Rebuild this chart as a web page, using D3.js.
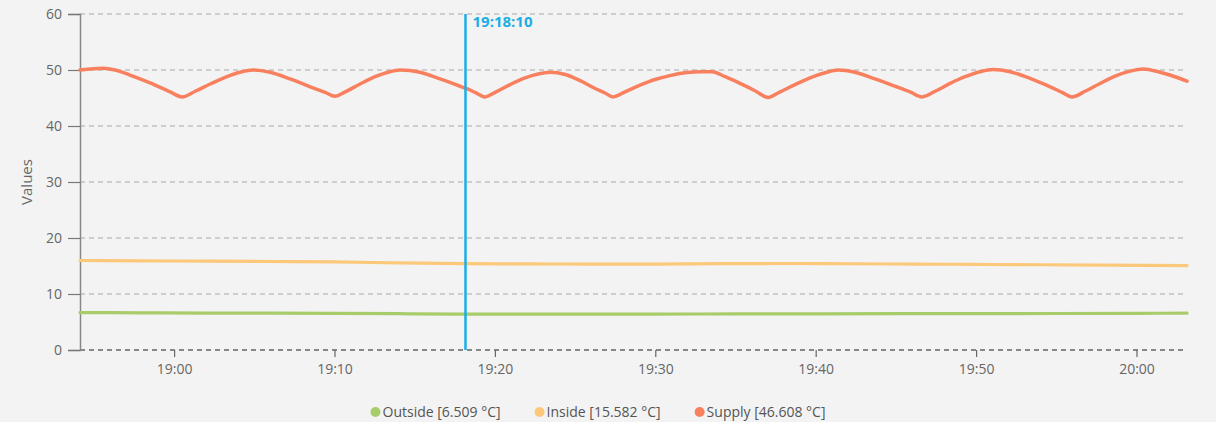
<!DOCTYPE html>
<html>
<head>
<meta charset="utf-8">
<script src="https://cdn.jsdelivr.net/npm/d3@7"></script>
<style>
  body { margin: 0; background: #f3f3f3; font-family: "Open Sans", "Noto Sans", sans-serif; }
  svg { display: block; }
  .tick text { fill: #666; font-size: 14px; font-family: "Open Sans", "Noto Sans", sans-serif; }
</style>
</head>
<body>
<svg id="chart" width="1216" height="422"></svg>
<script>
// time range of the view
var viewStart = "18:54:08", viewEnd = "20:03:09";
var cursorTime = "19:18:10";

var yTicks = [0, 10, 20, 30, 40, 50, 60];
var xTicks = ["19:00", "19:10", "19:20", "19:30", "19:40", "19:50", "20:00"];

var seriesNames = ["Outside", "Inside", "Supply"];
var legendValues = ["6.509", "15.582", "46.608"];
var seriesColors = ["#a9cc6b", "#fcc97a", "#f8805f"];

// readings
var outsideTimes = ["18:54:08","18:58:00","19:02:00","19:06:00","19:10:00","19:14:00","19:18:00","19:22:00","19:26:00","19:30:00","19:35:00","19:40:00","19:45:00","19:50:00","19:55:00","20:00:00","20:03:09"];
var outsideVals  = [6.68, 6.64, 6.6, 6.58, 6.54, 6.48, 6.4, 6.42, 6.4, 6.42, 6.44, 6.46, 6.48, 6.5, 6.52, 6.55, 6.58];

var insideTimes = ["18:54:08","18:58:00","19:02:00","19:06:00","19:10:00","19:14:00","19:18:00","19:22:00","19:26:00","19:30:00","19:34:00","19:38:00","19:42:00","19:46:00","19:50:00","19:54:00","19:58:00","20:03:09"];
var insideVals  = [15.98, 15.9, 15.88, 15.8, 15.72, 15.55, 15.42, 15.38, 15.34, 15.35, 15.42, 15.45, 15.4, 15.35, 15.28, 15.22, 15.15, 15.05];

var supplyTimes = ["18:54:08","18:55:34","18:56:19","18:57:15","18:58:30","18:59:45","19:00:30","19:01:19","19:02:15","19:03:11","19:04:07","19:04:56",
  "19:05:59","19:07:14","19:08:29","19:09:25","19:10:02","19:10:40","19:11:36","19:12:32","19:13:20","19:14:05",
  "19:15:20","19:16:35","19:17:50","19:18:12","19:18:46","19:19:23","19:20:01","19:20:57","19:21:53","19:22:42","19:23:27",
  "19:24:23","19:25:19","19:26:15","19:26:52","19:27:22","19:28:07","19:29:03","19:29:59","19:30:55","19:31:51","19:32:48","19:33:32",
  "19:34:21","19:35:17","19:36:13","19:37:02","19:37:47","19:38:43","19:39:39","19:40:35","19:41:24",
  "19:42:27","19:43:42","19:44:57","19:45:53","19:46:38","19:47:27","19:48:23","19:49:19","19:50:15","19:51:04",
  "19:52:07","19:53:22","19:54:37","19:55:22","19:55:59","19:56:48","19:57:44","19:58:40","19:59:36","20:00:25",
  "20:01:28","20:02:24","20:03:09"];
var supplyVals = [50.0, 50.3, 50.0, 49.1, 47.7, 46.1, 45.2, 46.2, 47.5, 48.7, 49.6, 50.0,
  49.6, 48.4, 47.0, 46.0, 45.3, 46.1, 47.5, 48.8, 49.6, 50.0,
  49.6, 48.4, 47.1, 46.7, 46.0, 45.2, 46.0, 47.4, 48.6, 49.3, 49.6,
  49.2, 48.1, 46.7, 45.9, 45.2, 46.1, 47.3, 48.3, 49.0, 49.5, 49.7, 49.7,
  48.8, 47.6, 46.3, 45.1, 46.1, 47.4, 48.6, 49.5, 50.0,
  49.6, 48.4, 47.1, 46.1, 45.2, 46.2, 47.6, 48.8, 49.7, 50.1,
  49.7, 48.5, 47.0, 46.0, 45.2, 46.2, 47.6, 48.9, 49.8, 50.2,
  49.6, 48.8, 48.0];

var parseT = d3.timeParse("%H:%M:%S");
var parseHM = d3.timeParse("%H:%M");

var margin = {top: 14, right: 29, bottom: 72, left: 80};
var width = 1216 - margin.left - margin.right,
    height = 422 - margin.top - margin.bottom;

var svg = d3.select("#chart");
var g = svg.append("g").attr("transform", "translate(" + margin.left + "," + margin.top + ")");

var x = d3.scaleTime().domain([parseT(viewStart), parseT(viewEnd)]).range([0, width]);
var y = d3.scaleLinear().domain([0, 60]).range([height, 0]);

// grid lines
g.selectAll(".grid")
  .data(yTicks)
  .enter().append("line")
  .attr("x1", 0).attr("x2", width)
  .attr("y1", function(d) { return y(d); })
  .attr("y2", function(d) { return y(d); })
  .attr("stroke", function(d) { return d == 0 ? "#666" : "#aaa"; })
  .attr("stroke-width", function(d) { return d == 0 ? 1.5 : 1.2; })
  .attr("stroke-dasharray", "5,4");

// y axis
var yAxis = g.append("g")
  .call(d3.axisLeft(y).tickValues(yTicks).tickSize(12).tickPadding(6));
yAxis.select(".domain").attr("stroke", "#888").attr("stroke-width", 1.5);
yAxis.selectAll(".tick line").attr("stroke", "#777").attr("stroke-width", 1.2);

// x axis
var xAxis = g.append("g")
  .attr("transform", "translate(0," + height + ")")
  .call(d3.axisBottom(x).tickValues(xTicks.map(parseHM)).tickFormat(d3.timeFormat("%H:%M")).tickSize(7).tickPadding(7));
xAxis.select(".domain").remove();
xAxis.selectAll(".tick line").attr("stroke", "#666").attr("stroke-width", 1.2);

g.append("text")
  .attr("transform", "rotate(-90)")
  .attr("x", -height / 2)
  .attr("y", -48)
  .attr("text-anchor", "middle")
  .attr("fill", "#666")
  .style("font-size", "15px")
  .text("Values");

// lines
var line = d3.line()
  .x(function(d) { return x(d.t); })
  .y(function(d) { return y(d.v); })
  .curve(d3.curveMonotoneX);

function toPts(times, vals) {
  return times.map(function(t, i) { return {t: parseT(t), v: vals[i]}; });
}

var series = [toPts(outsideTimes, outsideVals), toPts(insideTimes, insideVals), toPts(supplyTimes, supplyVals)];

series.forEach(function(s, i) {
  g.append("path")
    .style("fill", "none")
    .attr("stroke", seriesColors[i])
    .attr("stroke-width", i == 2 ? 3.5 : 3.2)
    .attr("stroke-linejoin", "round")
    .attr("stroke-linecap", "round")
    .attr("d", line(s));
});

// cursor
var cx = x(parseT(cursorTime));
g.append("line")
  .attr("x1", cx).attr("x2", cx)
  .attr("y1", 0).attr("y2", height)
  .attr("stroke", "#1aaee6")
  .attr("stroke-width", 2.5);
g.append("text")
  .attr("x", cx + 7)
  .attr("y", 13)
  .attr("fill", "#1aaee6")
  .style("font-size", "15px")
  .style("font-weight", "bold")
  .text(cursorTime);

// legend
var legend = svg.append("g").attr("class", "legend");
var lx = 0;
seriesNames.forEach(function(name, i) {
  var item = legend.append("g").attr("transform", "translate(" + lx + ",0)");
  item.append("circle").attr("cx", 5).attr("cy", 0).attr("r", 5).attr("fill", seriesColors[i]);
  var t = item.append("text")
    .attr("x", 12).attr("y", 5)
    .attr("fill", "#555")
    .style("font-size", "14px")
    .text(name + " [" + legendValues[i] + " \u00b0C]");
  lx += 12 + t.node().getComputedTextLength() + 34;
});
var lw = lx - 34;
legend.attr("transform", "translate(" + (598 - lw / 2) + ",412)");
</script>
</body>
</html>
